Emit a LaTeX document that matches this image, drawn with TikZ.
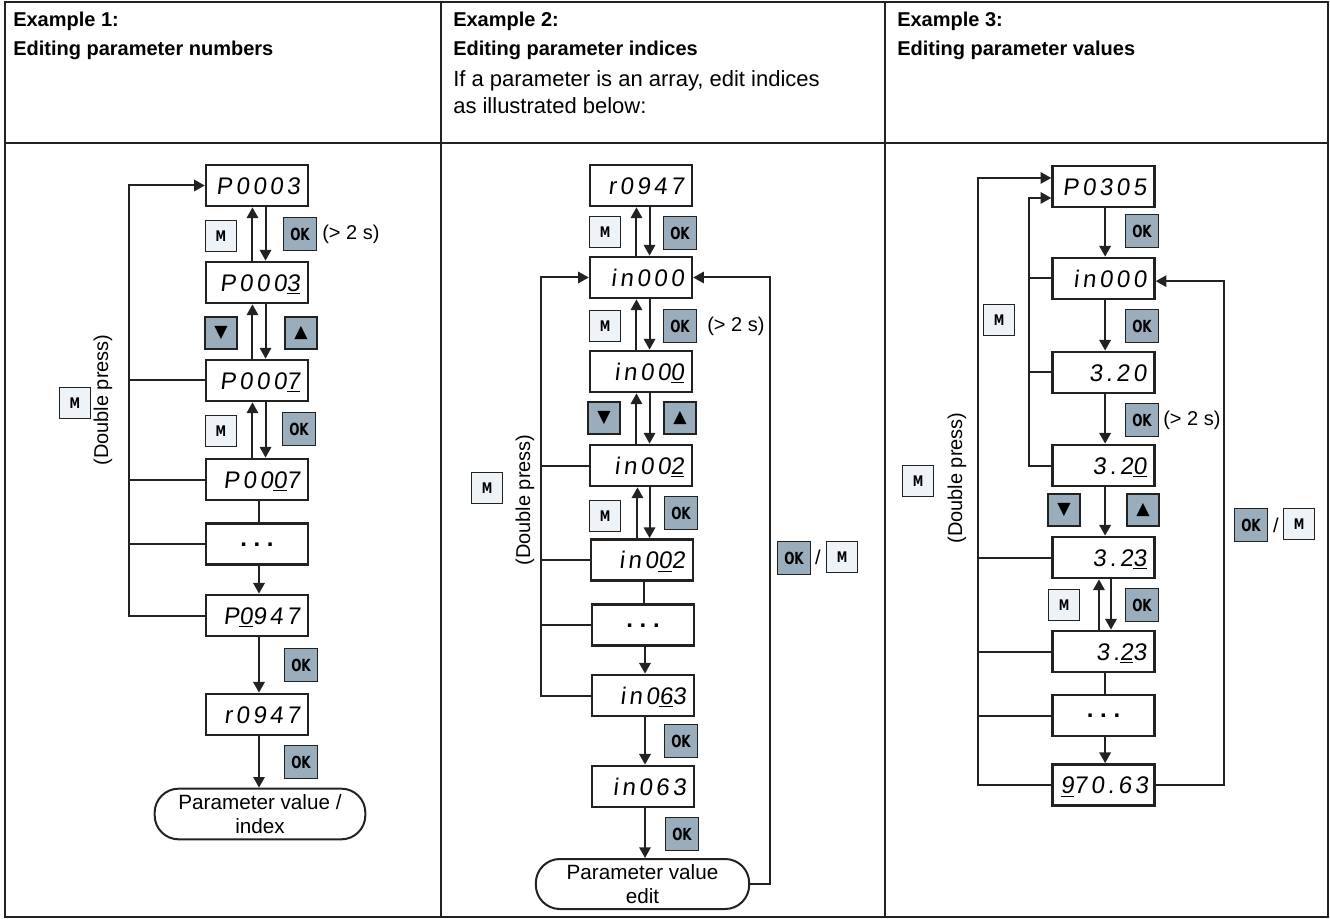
\documentclass[tikz,border=0pt]{standalone}
\usepackage{fontspec}
\setmainfont{Liberation Sans}
\newfontfamily\segfont{Liberation Sans}[LetterSpace=15, FakeSlant=0.12]
\newfontfamily\keyfont{DejaVu Sans Condensed Bold}[FakeStretch=0.8]
\newfontfamily\symfont{DejaVu Sans}
\usetikzlibrary{arrows.meta, positioning, calc}

\definecolor{ink}{HTML}{222222}
\definecolor{keydark}{HTML}{9AADBC}
\definecolor{keylight}{HTML}{EEF3F8}

\tikzset{
  grid/.style={draw=ink, line width=1.5pt},
  head/.style={anchor=base west, inner sep=0pt, font=\bfseries\fontsize{15}{18}\selectfont},
  note/.style={anchor=base west, inner sep=0pt, font=\fontsize{16.5}{18}\selectfont},
  disp/.style={draw=ink, line width=1.8pt, fill=white, minimum width=76.5pt, minimum height=31pt,
    inner xsep=6pt, text width=64.5pt, align=right, text height=13pt, text depth=0pt,
    font=\segfont\fontsize{18}{18}\selectfont},
  dots/.style={disp, align=center, text height=3pt, font=\bfseries\fontsize{18}{18}\selectfont},
  term/.style={draw=ink, line width=1.5pt, rounded corners=18pt, minimum width=158pt, minimum height=38pt,
    align=center, inner sep=0pt, font=\fontsize{15.5}{18}\selectfont},
  mkey/.style={draw=ink, line width=1.1pt, fill=keylight, minimum size=23.5pt, inner sep=0pt,
    font=\keyfont\fontsize{11}{11}\selectfont},
  okkey/.style={mkey, fill=keydark, minimum size=25pt, font=\keyfont\fontsize{12.5}{12.5}\selectfont},
  dirkey/.style={mkey, fill=keydark, minimum size=24pt, font=\symfont\fontsize{13}{13}\selectfont},
  txt/.style={font=\fontsize{15}{18}\selectfont, inner sep=0pt},
  conn/.style={draw=ink, line width=1.5pt},
  arr/.style={conn, -{Triangle[length=8pt, width=8.5pt]}}
}

\begin{document}
\begin{tikzpicture}[x=0.75pt, y=-0.75pt]
  \useasboundingbox (0,0) rectangle (1330,919);

  % Table frame
  \draw[grid] (5,2) rectangle (1328,917);
  \draw[grid] (441,2) -- (441,917);
  \draw[grid] (885,2) -- (885,917);
  \draw[grid] (5,143) -- (1328,143);

  % Header texts
  \node[head] (h1a) at (13,27) {Example 1:};
  \node[head] (h1b) at (13,56) {Editing parameter numbers};
  \node[head] (h2a) at (453,27) {Example 2:};
  \node[head] (h2b) at (453,56) {Editing parameter indices};
  \node[note] (h2c) at (453,87) {If a parameter is an array, edit indices};
  \node[note] (h2d) at (453,114) {as illustrated below:};
  \node[head] (h3a) at (897,27) {Example 3:};
  \node[head] (h3b) at (897,56) {Editing parameter values};

  % ---------- Example 1 ----------
  \node[disp] (d1a) at (257,185.5) {P0003};
  \node[disp] (d1b) at (257,282.5) {P000\underline{3}};
  \node[disp] (d1c) at (257,380.5) {P000\underline{7}};
  \node[disp] (d1d) at (257,479.5) {P00\underline{0}7};
  \node[dots] (d1e) at (257,544) {.\kern5pt.\kern5pt.};
  \node[disp] (d1f) at (257,615.5) {P\underline{0}947};
  \node[disp] (d1g) at (257,714.5) {r0947};
  \node[term] (o1) at (260,814) {Parameter value /\\index};

  \foreach \a/\b in {d1a/d1b, d1b/d1c, d1c/d1d} {
    \draw[arr] ([xshift=-3.4pt]\b.north) -- ([xshift=-3.4pt]\a.south);
    \draw[arr] ([xshift=6.4pt]\a.south) -- ([xshift=6.4pt]\b.north);
  }
  \draw[conn] ([xshift=1.5pt]d1d.south) -- ([xshift=1.5pt]d1e.north);
  \foreach \a/\b in {d1e/d1f, d1f/d1g, d1g/o1}
    \draw[arr] ([xshift=1.5pt]\a.south) -- ([xshift=1.5pt]\a.south |- \b.north);

  \coordinate (bus1) at (129,0);
  \draw[arr] (d1f.west) -- (d1f.west -| bus1) |- (d1a.west);
  \foreach \n in {d1c, d1d, d1e}
    \draw[conn] (\n.west) -- (\n.west -| bus1);

  \node[mkey] (k1a) at (221,236) {M};
  \node[okkey] (k1b) at (300,234) {OK};
  \node[txt, anchor=west] (t1a) at (322,234) {(> 2 s)};
  \node[dirkey] (k1c) at (221,333) {▼};
  \node[dirkey] (k1d) at (301,333) {▲};
  \node[mkey] (k1e) at (221,431) {M};
  \node[okkey] (k1f) at (299,429) {OK};
  \node[okkey] (k1g) at (301,665) {OK};
  \node[okkey] (k1h) at (301,762) {OK};
  \node[mkey] (k1i) at (75,403) {M};
  \node[txt, rotate=90] (t1b) at (103,400) {(Double press)};

  % ---------- Example 2 ----------
  \node[disp] (d2a) at (641,185.5) {r0947};
  \node[disp] (d2b) at (641,277.5) {in000};
  \node[disp] (d2c) at (641,371.5) {in00\underline{0}};
  \node[disp] (d2d) at (641,465.5) {in00\underline{2}};
  \node[disp] (d2e) at (642,560) {in0\underline{0}2};
  \node[dots] (d2f) at (643,625) {.\kern5pt.\kern5pt.};
  \node[disp] (d2g) at (643,695.5) {in0\underline{6}3};
  \node[disp] (d2h) at (643,786.5) {in063};
  \node[term, minimum width=160pt, minimum height=37.5pt] (o2) at (642.5,884) {Parameter value\\edit};

  \foreach \a/\b in {d2a/d2b, d2b/d2c, d2c/d2d, d2d/d2e} {
    \draw[arr] ([xshift=-3.4pt]\b.north) -- ([xshift=-3.4pt]\b.north |- \a.south);
    \draw[arr] ([xshift=6.4pt]\a.south) -- ([xshift=6.4pt]\a.south |- \b.north);
  }
  \draw[conn] ([xshift=1.5pt]d2e.south) -- ([xshift=1.5pt]d2e.south |- d2f.north);
  \foreach \a/\b in {d2f/d2g, d2g/d2h, d2h/o2}
    \draw[arr] ([xshift=1.5pt]\a.south) -- ([xshift=1.5pt]\a.south |- \b.north);

  \coordinate (bus2) at (541,0);
  \coordinate (ret2) at (770,0);
  \draw[arr] (d2g.west) -- (d2g.west -| bus2) |- (d2b.west);
  \foreach \n in {d2d, d2e, d2f}
    \draw[conn] (\n.west) -- (\n.west -| bus2);
  \draw[arr] (o2.east) -- (o2.east -| ret2) |- (d2b.east);

  \node[mkey] (k2a) at (605,232) {M};
  \node[okkey] (k2b) at (680,233) {OK};
  \node[mkey] (k2c) at (605,326) {M};
  \node[okkey] (k2d) at (680,326) {OK};
  \node[txt, anchor=west] (t2a) at (707,326) {(> 2 s)};
  \node[dirkey] (k2e) at (604,418) {▼};
  \node[dirkey] (k2f) at (680,418) {▲};
  \node[mkey] (k2g) at (605,516) {M};
  \node[okkey] (k2h) at (681,513) {OK};
  \node[okkey] (k2i) at (681,741) {OK};
  \node[okkey] (k2j) at (682,834) {OK};
  \node[mkey] (k2k) at (487,488) {M};
  \node[txt, rotate=90] (t2b) at (525,500) {(Double press)};
  \node[okkey] (k2l) at (794,558) {OK};
  \node[txt] (t2c) at (818,557) {/};
  \node[mkey] (k2m) at (842,557) {M};

  % ---------- Example 3 ----------
  \node[disp] (d3a) at (1103.5,186.5) {P0305};
  \node[disp] (d3b) at (1103.5,278.5) {in000};
  \node[disp] (d3c) at (1103.5,372.5) {3.20};
  \node[disp] (d3d) at (1103.5,465.5) {3.2\underline{0}};
  \node[disp] (d3e) at (1103.5,557.5) {3.2\underline{3}};
  \node[disp] (d3f) at (1103.5,651.5) {3.\underline{2}3};
  \node[dots] (d3g) at (1103.5,715.5) {.\kern5pt.\kern5pt.};
  \node[disp] (d3h) at (1103.5,785) {\underline{9}70.63};

  \foreach \a/\b in {d3a/d3b, d3b/d3c, d3c/d3d, d3d/d3e, d3g/d3h}
    \draw[arr] ([xshift=1.2pt]\a.south) -- ([xshift=1.2pt]\a.south |- \b.north);
  \draw[arr] ([xshift=-3.4pt]d3f.north) -- ([xshift=-3.4pt]d3f.north |- d3e.south);
  \draw[arr] ([xshift=5.6pt]d3e.south) -- ([xshift=5.6pt]d3e.south |- d3f.north);
  \draw[conn] ([xshift=1.2pt]d3f.south) -- ([xshift=1.2pt]d3f.south |- d3g.north);

  \coordinate (bus3o) at (978,0);
  \coordinate (bus3i) at (1029,0);
  \coordinate (ret3) at (1224,0);
  \draw[arr] (d3h.west) -- (d3h.west -| bus3o) |- ([yshift=6.4pt]d3a.west);
  \draw[arr] (d3d.west) -- (d3d.west -| bus3i) |- ([yshift=-8.6pt]d3a.west);
  \foreach \n in {d3e, d3f, d3g}
    \draw[conn] (\n.west) -- (\n.west -| bus3o);
  \foreach \n in {d3b, d3c}
    \draw[conn] (\n.west) -- (\n.west -| bus3i);
  \draw[arr] (d3h.east) -- (d3h.east -| ret3) |- ([yshift=-2pt]d3b.east);

  \node[okkey] (k3a) at (1142,231) {OK};
  \node[okkey] (k3b) at (1142,326) {OK};
  \node[okkey] (k3c) at (1142,420) {OK};
  \node[txt, anchor=west] (t3a) at (1163,420) {(> 2 s)};
  \node[dirkey] (k3d) at (1064,510) {▼};
  \node[dirkey] (k3e) at (1143,510) {▲};
  \node[mkey] (k3f) at (1064,605) {M};
  \node[okkey] (k3g) at (1142,605) {OK};
  \node[mkey] (k3h) at (999,320) {M};
  \node[mkey] (k3i) at (918,481) {M};
  \node[txt, rotate=90] (t3b) at (957,478) {(Double press)};
  \node[okkey] (k3j) at (1251,525) {OK};
  \node[txt] (t3c) at (1276,525) {/};
  \node[mkey] (k3k) at (1299,524) {M};
\end{tikzpicture}
\end{document}
